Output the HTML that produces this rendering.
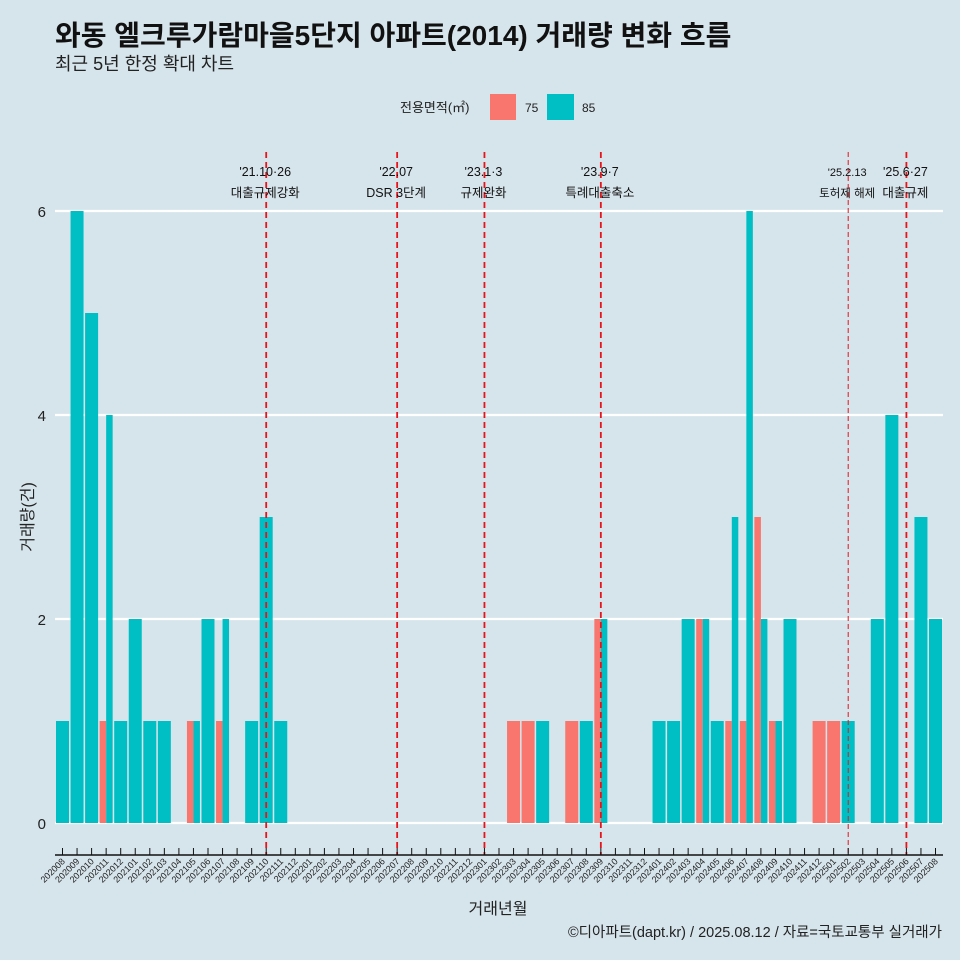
<!DOCTYPE html>
<html><head><meta charset="utf-8">
<style>
body{margin:0;background:#d6e4eb;}
svg{display:block;font-family:"Liberation Sans","Noto Sans CJK KR",sans-serif;}
</style></head><body>
<svg id="c" width="960" height="960" viewBox="0 0 960 960">
<rect width="960" height="960" fill="#d6e4eb"/>
<text x="55" y="45" font-size="28" font-weight="bold" fill="#111">와동 엘크루가람마을5단지 아파트(2014) 거래량 변화 흐름</text>
<text x="55" y="70" font-size="18" fill="#222">최근 5년 한정 확대 차트</text>
<g>
<text x="400" y="112" font-size="13" fill="#222">전용면적(㎡)</text>
<rect x="490" y="94" width="26" height="26" fill="#f8766d"/>
<text x="525" y="112" font-size="12" fill="#222">75</text>
<rect x="547" y="94" width="27" height="26" fill="#00bfc4"/>
<text x="582" y="112" font-size="12" fill="#222">85</text>
</g>
<g id="grid"></g><g id="bars"></g><g id="events"></g><g id="xaxis"></g>
<text transform="translate(33,517) rotate(-90)" text-anchor="middle" font-size="16" fill="#222">거래량(건)</text>
<text x="498" y="914" text-anchor="middle" font-size="16" fill="#222">거래년월</text>
<text x="942" y="937" text-anchor="end" font-size="14.5" fill="#222">©디아파트(dapt.kr) / 2025.08.12 / 자료=국토교통부 실거래가</text>
</svg>
<script>
const months=[];for(let y=2020,m=8;y<2025||(y===2025&&m<=8);m++){if(m>12){m=1;y++;}months.push(y+String(m).padStart(2,'0'));}
const series75={"202011":1,"202105":1,"202107":1,"202303":1,"202304":1,"202307":1,"202309":2,"202404":2,"202406":1,"202407":1,"202408":3,"202409":1,"202412":1,"202501":1};
const series85={"202008":1,"202009":6,"202010":5,"202011":4,"202012":1,"202101":2,"202102":1,"202103":1,"202105":1,"202106":2,"202107":2,"202109":1,"202110":3,"202111":1,"202305":1,"202308":1,"202309":2,"202401":1,"202402":1,"202403":2,"202404":2,"202405":1,"202406":3,"202407":6,"202408":2,"202409":1,"202410":2,"202502":1,"202504":2,"202505":4,"202507":3,"202508":2};
const yTicks=[0,2,4,6];
const evMonths=["202110","202207","202301","202309","202502","202506"];
const evLine1=["'21.10·26","'22.07","'23.1·3","'23.9·7","'25.2.13","'25.6·27"];
const evLine2=["대출규제강화","DSR 3단계","규제완화","특례대출축소","토허제 해제","대출규제"];
const NS="http://www.w3.org/2000/svg";
const X0=62.5,DX=14.55,Y0=823,DY=102,BW=13;
const xs=i=>X0+i*DX, ys=v=>Y0-v*DY;
function el(t,a,p){const e=document.createElementNS(NS,t);for(const k in a)e.setAttribute(k,a[k]);p.appendChild(e);return e;}
const grid=document.getElementById('grid');
yTicks.forEach(v=>{
 const l=el('line',{x1:55,x2:943,y1:ys(v),y2:ys(v),stroke:'#fff','stroke-width':2.2},grid);
 
 
 const t=el('text',{x:46,y:ys(v)+6,'text-anchor':'end','font-size':15,fill:'#222'},grid);
 
 
 t.textContent=v;
});
const bars=document.getElementById('bars');
months.forEach((m,i)=>{
 const a=series75[m]||0,b=series85[m]||0,cx=xs(i);
 if(a&&b){
  const r1=el('rect',{x:cx-BW/2,y:ys(a),width:BW/2,height:a*DY,fill:'#f8766d'},bars);
  
  
  const r2=el('rect',{x:cx,y:ys(b),width:BW/2,height:b*DY,fill:'#00bfc4'},bars);
  
  
 }else if(a||b){
  const v=a||b;
  const r=el('rect',{x:cx-BW/2,y:ys(v),width:BW,height:v*DY,fill:a?'#f8766d':'#00bfc4'},bars);
  
  
 }
});
const ev=document.getElementById('events');
evMonths.forEach((m,k)=>{
 const i=months.indexOf(m),cx=xs(i),thin=(m==="202502");
 const ln=el('line',{x1:cx,x2:cx,y1:152,y2:855,stroke:'#e8141c','stroke-width':thin?1:1.8,'stroke-dasharray':thin?'5,3':'6,4'},ev);
 
 
 const t1=el('text',{x:cx-1,y:176,'text-anchor':'middle','font-size':thin?11:12.5,fill:'#111'},ev);
 
 
 t1.textContent=evLine1[k];
 const t2=el('text',{x:cx-1,y:197,'text-anchor':'middle','font-size':thin?11.5:12.5,fill:'#111'},ev);
 
 
 t2.textContent=evLine2[k];
});
const xa=document.getElementById('xaxis');
const ax=el('line',{x1:55,x2:943,y1:855,y2:855,stroke:'#111','stroke-width':1.5},xa);


months.forEach((m,i)=>{
 const cx=xs(i);
 const tk=el('line',{x1:cx,x2:cx,y1:848,y2:855,stroke:'#111','stroke-width':1},xa);
 
 
 const t=el('text',{x:cx+3,y:862,'text-anchor':'end','font-size':9,fill:'#222',transform:`rotate(-45 ${cx+3} 862)`},xa);
 
 
 t.textContent=m;
});
</script>
</body></html>
